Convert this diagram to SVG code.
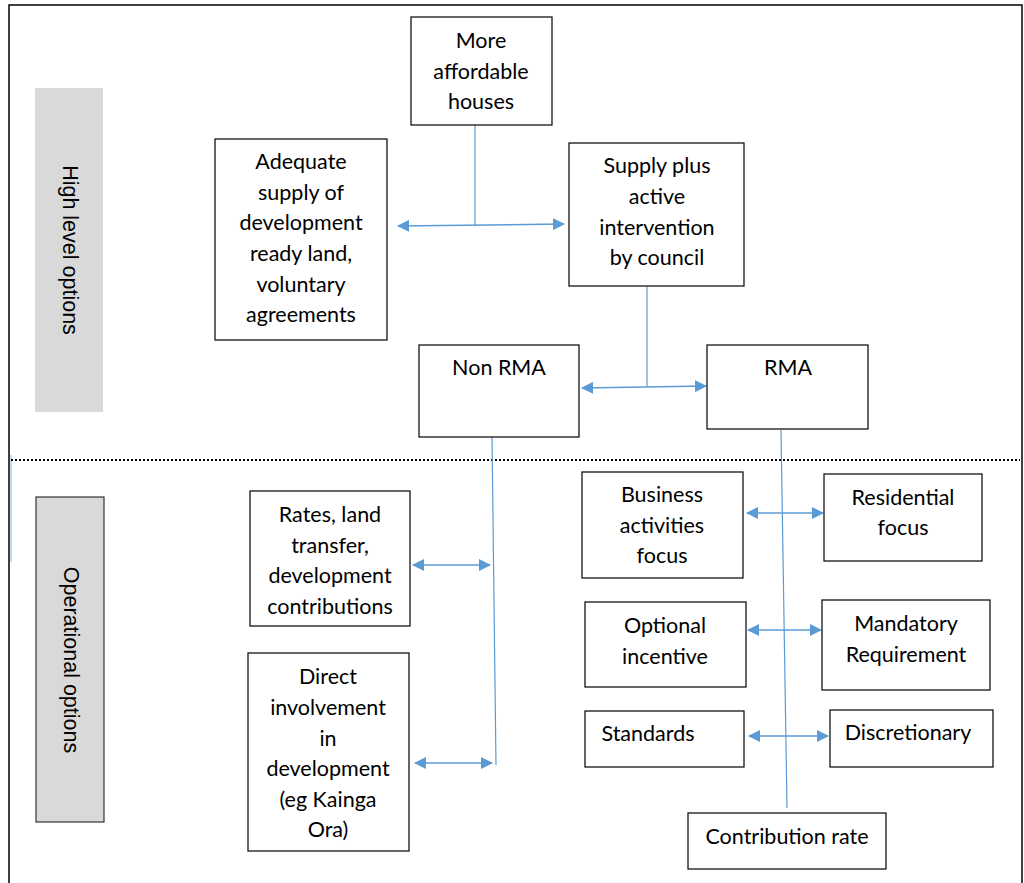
<svg xmlns="http://www.w3.org/2000/svg" width="1024" height="883" viewBox="0 0 1024 883">
<defs>
<style>
.box{fill:#fff;stroke:#000;stroke-width:1.2}
.t{font-family:Lato,"Liberation Sans",sans-serif;font-size:21.5px;fill:#000;text-anchor:middle;dominant-baseline:central}
.vt{font-family:"Liberation Sans",Arial,sans-serif;font-size:21.5px;fill:#000;text-anchor:middle;dominant-baseline:central}
.ln{stroke:#5b9bd5;stroke-width:1.2;fill:none}
.ar{stroke:#5b9bd5;stroke-width:1.5;fill:none;marker-start:url(#ah);marker-end:url(#ah)}
</style>
<marker id="ah" viewBox="0 0 12 12" refX="11" refY="6" markerWidth="12" markerHeight="12" markerUnits="userSpaceOnUse" orient="auto-start-reverse">
<path d="M0,0 L12,6 L0,12 Z" fill="#5b9bd5"/>
</marker>
</defs>
<rect width="1024" height="883" fill="#fff"/>
<path d="M9,890 L9,5 L1022,5 L1022,890" fill="none" stroke="#000" stroke-width="1.5"/>
<line x1="11" y1="455" x2="11" y2="562" stroke="#9dc3e6" stroke-width="1.2"/>
<line x1="11" y1="460" x2="1020" y2="460" stroke="#000" stroke-width="2.2" stroke-dasharray="2 2"/>

<g id="bar-high">
<rect x="35" y="88" width="68" height="324" fill="#d9d9d9"/>
<text class="vt" transform="translate(70,250) rotate(90)">High level options</text>
</g>
<g id="bar-operational">
<rect x="36" y="497" width="68" height="325" fill="#d9d9d9" stroke="#333" stroke-width="1.2"/>
<text class="vt" transform="translate(71,660) rotate(90)">Operational options</text>
</g>

<g id="connectors">
<line class="ln" x1="475" y1="125" x2="475" y2="226"/>
<line class="ar" x1="398" y1="226" x2="564" y2="224"/>
<line class="ln" x1="647" y1="287" x2="647" y2="387"/>
<line class="ar" x1="582" y1="388" x2="706" y2="386"/>
<line class="ln" x1="492" y1="437" x2="496" y2="765"/>
<line class="ar" x1="413" y1="565" x2="490" y2="565"/>
<line class="ar" x1="415" y1="763" x2="492" y2="763"/>
<line class="ln" x1="781" y1="430" x2="787" y2="808"/>
<line class="ar" x1="747" y1="513" x2="823" y2="513"/>
<line class="ar" x1="748" y1="630" x2="821" y2="630"/>
<line class="ar" x1="749" y1="736" x2="828" y2="736"/>
</g>

<g id="n-affordable">
<rect class="box" x="411" y="17" width="141" height="108"/>
<text class="t" x="481" y="40">More</text>
<text class="t" x="481" y="71">affordable</text>
<text class="t" x="481" y="101">houses</text>
</g>
<g id="n-adequate">
<rect class="box" x="215" y="139" width="172" height="201"/>
<text class="t" x="301" y="161">Adequate</text>
<text class="t" x="301" y="192">supply of</text>
<text class="t" x="301" y="222">development</text>
<text class="t" x="301" y="253">ready land,</text>
<text class="t" x="301" y="284">voluntary</text>
<text class="t" x="301" y="314">agreements</text>
</g>
<g id="n-supply">
<rect class="box" x="569" y="143" width="175" height="143"/>
<text class="t" x="657" y="165">Supply plus</text>
<text class="t" x="657" y="196">active</text>
<text class="t" x="657" y="227">intervention</text>
<text class="t" x="657" y="257">by council</text>
</g>
<g id="n-nonrma">
<rect class="box" x="419" y="345" width="160" height="92"/>
<text class="t" x="499" y="367">Non RMA</text>
</g>
<g id="n-rma">
<rect class="box" x="707" y="345" width="161" height="84"/>
<text class="t" x="788" y="367">RMA</text>
</g>
<g id="n-rates">
<rect class="box" x="250" y="491" width="160" height="135"/>
<text class="t" x="330" y="514">Rates, land</text>
<text class="t" x="330" y="545">transfer,</text>
<text class="t" x="330" y="575">development</text>
<text class="t" x="330" y="606">contributions</text>
</g>
<g id="n-direct">
<rect class="box" x="248" y="653" width="161" height="198"/>
<text class="t" x="328" y="676">Direct</text>
<text class="t" x="328" y="707">involvement</text>
<text class="t" x="328" y="738">in</text>
<text class="t" x="328" y="768">development</text>
<text class="t" x="328" y="799">(eg Kainga</text>
<text class="t" x="328" y="829">Ora)</text>
</g>
<g id="n-business">
<rect class="box" x="582" y="472" width="161" height="106"/>
<text class="t" x="662" y="494">Business</text>
<text class="t" x="662" y="525">activities</text>
<text class="t" x="662" y="555">focus</text>
</g>
<g id="n-residential">
<rect class="box" x="824" y="474" width="158" height="87"/>
<text class="t" x="903" y="497">Residential</text>
<text class="t" x="903" y="527">focus</text>
</g>
<g id="n-optional">
<rect class="box" x="585" y="602" width="161" height="85"/>
<text class="t" x="665" y="625">Optional</text>
<text class="t" x="665" y="656">incentive</text>
</g>
<g id="n-mandatory">
<rect class="box" x="822" y="600" width="168" height="90"/>
<text class="t" x="906" y="623">Mandatory</text>
<text class="t" x="906" y="654">Requirement</text>
</g>
<g id="n-standards">
<rect class="box" x="585" y="711" width="159" height="56"/>
<text class="t" x="648" y="733">Standards</text>
</g>
<g id="n-discretionary">
<rect class="box" x="830" y="710" width="163" height="57"/>
<text class="t" x="908" y="732">Discretionary</text>
</g>
<g id="n-contribution">
<rect class="box" x="688" y="813" width="198" height="56"/>
<text class="t" x="787" y="836">Contribution rate</text>
</g>
</svg>
